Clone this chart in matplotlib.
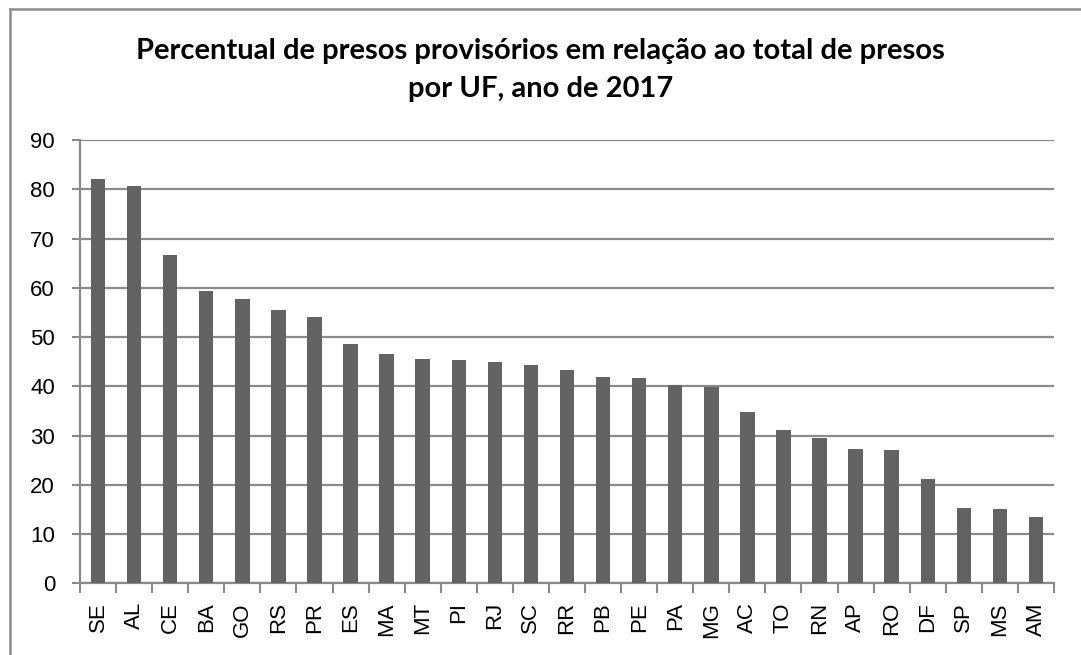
import matplotlib
matplotlib.use("Agg")
import matplotlib.pyplot as plt
from matplotlib.lines import Line2D

categories = ["SE", "AL", "CE", "BA", "GO", "RS", "PR", "ES", "MA", "MT", "PI", "RJ", "SC", "RR",
              "PB", "PE", "PA", "MG", "AC", "TO", "RN", "AP", "RO", "DF", "SP", "MS", "AM"]
values = [82.1, 80.7, 66.7, 59.4, 57.7, 55.5, 54.0, 48.5, 46.6, 45.5, 45.4, 44.9, 44.4, 43.3,
          41.8, 41.6, 40.2, 39.8, 34.8, 31.2, 29.4, 27.3, 27.0, 21.1, 15.2, 15.0, 13.4]
yticks = [0, 10, 20, 30, 40, 50, 60, 70, 80, 90]
title_lines = ["Percentual de presos provisórios em relação ao total de presos",
               "por UF, ano de 2017"]

W, H = 1081, 655
fig = plt.figure(figsize=(W / 100, H / 100), dpi=100)
fig.patch.set_facecolor("white")

# frame lines (left and top only, as cropped in reference)
fig.add_artist(Line2D([10 / W, 10 / W], [0, 1 - 9 / H], color="#8c8c8c", lw=1.8, transform=fig.transFigure))
fig.add_artist(Line2D([10 / W, 1], [1 - 9 / H, 1 - 9 / H], color="#8c8c8c", lw=1.8, transform=fig.transFigure))

left, right, top, bottom = 80, 1054, 140, 583.3
ax = fig.add_axes([left / W, 1 - bottom / H, (right - left) / W, (bottom - top) / H])

x = list(range(len(categories)))
ax.bar(x, values, width=0.4, color="#636363", zorder=3)
ax.set_xlim(-0.5, len(categories) - 0.5)
ax.set_ylim(0, 90)
ax.set_yticks(yticks)
ax.set_yticklabels([str(t) for t in yticks], fontsize=16, family="Liberation Sans")
ax.yaxis.grid(True, color="#8a8a8a", lw=1.6, zorder=0)
ax.set_axisbelow(True)

ax.set_xticks(x)
ax.set_xticklabels(categories, rotation=90, fontsize=16, family="Liberation Sans")
ax.tick_params(axis="x", which="major", length=0, pad=13.5)
ax.set_xticks([i - 0.5 for i in range(len(categories) + 1)], minor=True)
ax.tick_params(axis="x", which="minor", length=7, width=1.5, color="#8a8a8a")
ax.tick_params(axis="y", length=6, width=1.5, color="#8a8a8a", pad=12)

for s in ["top", "right"]:
    ax.spines[s].set_visible(False)
for s in ["left", "bottom"]:
    ax.spines[s].set_color("#8a8a8a")
    ax.spines[s].set_linewidth(1.6)

for line, ypx in zip(title_lines, [59, 97]):
    fig.text(0.5, 1 - ypx / H, line, ha="center", va="baseline", fontsize=21, fontweight="bold",
             family="Lato")

fig.savefig("out.png", dpi=100)
